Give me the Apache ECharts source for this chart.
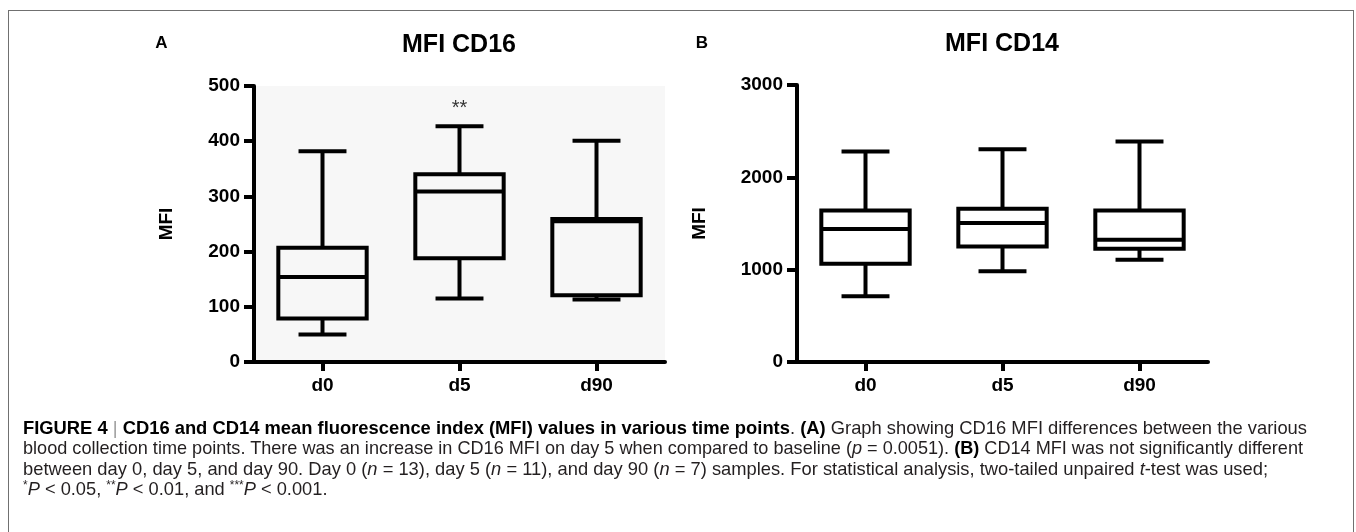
<!DOCTYPE html>
<html>
<head>
<meta charset="utf-8">
<script src="https://cdn.jsdelivr.net/npm/echarts@6/dist/echarts.min.js"></script>
<style>
  html, body { margin:0; padding:0; background:#fff; width:1356px; height:532px; overflow:hidden; }
  #frame { position:absolute; left:8px; top:10px; width:1346px; height:600px; border:1px solid #707070; box-sizing:border-box; }
  #chart { position:absolute; left:0; top:0; width:1356px; height:532px; }
  #caption { position:absolute; left:23px; top:418px; z-index:2; color:#231f20;
    font-family:"Liberation Sans Narrow","Liberation Sans",Arial,sans-serif; font-size:19px; }
  #caption .ln { display:block; white-space:nowrap; line-height:20.4px; height:20.4px; }
  #caption .ln span.in { display:inline-block; transform-origin:0 50%; }
  #caption b { font-weight:bold; color:#000; }
  #caption .bar { color:#9a9a9a; font-weight:normal; }
  #caption sup { font-size:0.65em; vertical-align:0.45em; line-height:0; }
</style>
</head>
<body>
<div id="frame"></div>
<div id="chart"></div>
<div id="caption">
  <div class="ln"><span class="in"><b>FIGURE 4</b> <span class="bar">|</span> <b>CD16 and CD14 mean fluorescence index (MFI) values in various time points</b>. <b>(A)</b> Graph showing CD16 MFI differences between the various</span></div>
  <div class="ln"><span class="in">blood collection time points. There was an increase in CD16 MFI on day 5 when compared to baseline (<i>p</i> = 0.0051). <b>(B)</b> CD14 MFI was not significantly different</span></div>
  <div class="ln"><span class="in">between day 0, day 5, and day 90. Day 0 (<i>n</i> = 13), day 5 (<i>n</i> = 11), and day 90 (<i>n</i> = 7) samples. For statistical analysis, two-tailed unpaired <i>t</i>-test was used;</span></div>
  <div class="ln"><span class="in"><sup>*</sup><i>P</i> &lt; 0.05, <sup>**</sup><i>P</i> &lt; 0.01, and <sup>***</sup><i>P</i> &lt; 0.001.</span></div>
</div>
<script>
// ---------- data ----------
const categories = ['d0', 'd5', 'd90'];

// Panel A: MFI CD16
const cd16Min    = [50, 115, 113];
const cd16Q1     = [79, 188, 121];
const cd16Median = [154, 309, 255];
const cd16Q3     = [207, 340, 259];
const cd16Max    = [382, 427, 401];
const cd16Ticks  = [0, 100, 200, 300, 400, 500];

// Panel B: MFI CD14
const cd14Min    = [711, 982, 1108];
const cd14Q1     = [1065, 1252, 1227];
const cd14Median = [1440, 1505, 1324];
const cd14Q3     = [1641, 1659, 1641];
const cd14Max    = [2279, 2305, 2387];
const cd14Ticks  = [0, 1000, 2000, 3000];

// significance annotation (panel A)
const sigCategory = 'd5';
const sigValue = 460;
const sigText = '**';

const titles = ['MFI CD16', 'MFI CD14'];
const panelLetters = ['A', 'B'];
const yName = 'MFI';

// ---------- chart ----------
const FONT = '"Liberation Sans", Arial, Helvetica, sans-serif';

function boxData(mn, q1, md, q3, mx) {
  return categories.map((c, i) => [i, mn[i], q1[i], md[i], q3[i], mx[i]]);
}

function renderBox(params, api) {
  const i = api.value(0);
  const lo = api.coord([i, api.value(1)]);
  const q1 = api.coord([i, api.value(2)]);
  const md = api.coord([i, api.value(3)]);
  const q3 = api.coord([i, api.value(4)]);
  const hi = api.coord([i, api.value(5)]);
  const band = api.size([1, 0])[0];
  const bw = band * 0.645 / 2;
  const cw = band * 0.35 / 2;
  const cx = lo[0];
  const st = { stroke: '#000', fill: null, lineWidth: 4 };
  const ln = (x1, y1, x2, y2) => ({ type: 'line', shape: { x1, y1, x2, y2 }, style: st });
  return {
    type: 'group',
    children: [
      ln(cx, q3[1], cx, hi[1]),
      ln(cx - cw, hi[1], cx + cw, hi[1]),
      ln(cx, q1[1], cx, lo[1]),
      ln(cx - cw, lo[1], cx + cw, lo[1]),
      { type: 'rect', shape: { x: cx - bw, y: q3[1], width: 2 * bw, height: q1[1] - q3[1] }, style: st },
      ln(cx - bw, md[1], cx + bw, md[1])
    ]
  };
}

function xAxisCfg(gi) {
  return {
    gridIndex: gi, type: 'category', data: categories, boundaryGap: true,
    axisLine: { show: true, lineStyle: { color: '#000', width: 4 } },
    axisTick: { show: true, alignWithLabel: true, length: 9, lineStyle: { color: '#000', width: 4 } },
    axisLabel: { color: '#000', fontWeight: 'bold', fontSize: 19, fontFamily: FONT, margin: 14 },
    splitLine: { show: false }
  };
}
function yAxisCfg(gi, ticks, gap) {
  return {
    gridIndex: gi, type: 'value',
    min: ticks[0], max: ticks[ticks.length - 1], interval: ticks[1] - ticks[0],
    name: yName, nameLocation: 'middle', nameGap: gap,
    nameTextStyle: { color: '#000', fontWeight: 'bold', fontSize: 19, fontFamily: FONT },
    axisLine: { show: true, lineStyle: { color: '#000', width: 4 } },
    axisTick: { show: true, length: 10, lineStyle: { color: '#000', width: 4 } },
    axisLabel: { color: '#000', fontWeight: 'bold', fontSize: 19, fontFamily: FONT, margin: 14,
      formatter: v => String(v) },
    splitLine: { show: false }
  };
}

const chart = echarts.init(document.getElementById('chart'), null, { renderer: 'canvas' });
const option = {
  animation: false,
  backgroundColor: 'transparent',
  grid: [
    { left: 254, top: 86, width: 411, height: 276, show: true, backgroundColor: '#f7f7f7', borderWidth: 0 },
    { left: 797, top: 85, width: 411, height: 277, show: false }
  ],
  xAxis: [xAxisCfg(0), xAxisCfg(1)],
  yAxis: [yAxisCfg(0, cd16Ticks, 78), yAxisCfg(1, cd14Ticks, 88)],
  graphic: [
    { type: 'text', x: 161.5, y: 43.5, style: { text: panelLetters[0], font: 'bold 17px ' + FONT, fill: '#000', textAlign: 'center', textVerticalAlign: 'middle' } },
    { type: 'text', x: 702, y: 43, style: { text: panelLetters[1], font: 'bold 17px ' + FONT, fill: '#000', textAlign: 'center', textVerticalAlign: 'middle' } },
    { type: 'text', x: 459, y: 45.5, style: { text: titles[0], font: 'bold 25px ' + FONT, fill: '#000', textAlign: 'center', textVerticalAlign: 'middle' } },
    { type: 'text', x: 1002, y: 44.5, style: { text: titles[1], font: 'bold 25px ' + FONT, fill: '#000', textAlign: 'center', textVerticalAlign: 'middle' } }
  ],
  series: [
    { type: 'custom', xAxisIndex: 0, yAxisIndex: 0, renderItem: renderBox, clip: false, z: 3,
      encode: { x: 0, y: [1, 2, 3, 4, 5] },
      data: boxData(cd16Min, cd16Q1, cd16Median, cd16Q3, cd16Max) },
    { type: 'custom', xAxisIndex: 1, yAxisIndex: 1, renderItem: renderBox, clip: false, z: 3,
      encode: { x: 0, y: [1, 2, 3, 4, 5] },
      data: boxData(cd14Min, cd14Q1, cd14Median, cd14Q3, cd14Max) },
    { type: 'scatter', xAxisIndex: 0, yAxisIndex: 0, symbolSize: 0, silent: true,
      data: [[categories.indexOf(sigCategory), sigValue]],
      label: { show: true, position: 'inside', formatter: sigText, color: '#000', fontSize: 20, fontFamily: FONT } }
  ]
};
chart.setOption(option);

// fit caption lines to their measured widths in the reference
(function fitCaption() {
  const targets = [1284, 1280, 1245, null];
  const spans = Array.from(document.querySelectorAll('#caption .ln span.in'));
  const scales = [];
  spans.forEach((s, i) => {
    if (targets[i]) {
      const w = s.getBoundingClientRect().width;
      const k = targets[i] / w;
      scales.push(k);
      s.style.transform = 'scaleX(' + k + ')';
    }
  });
  const avg = scales.reduce((a, b) => a + b, 0) / scales.length;
  spans.forEach((s, i) => { if (!targets[i]) s.style.transform = 'scaleX(' + avg + ')'; });
})();
</script>
</body>
</html>
